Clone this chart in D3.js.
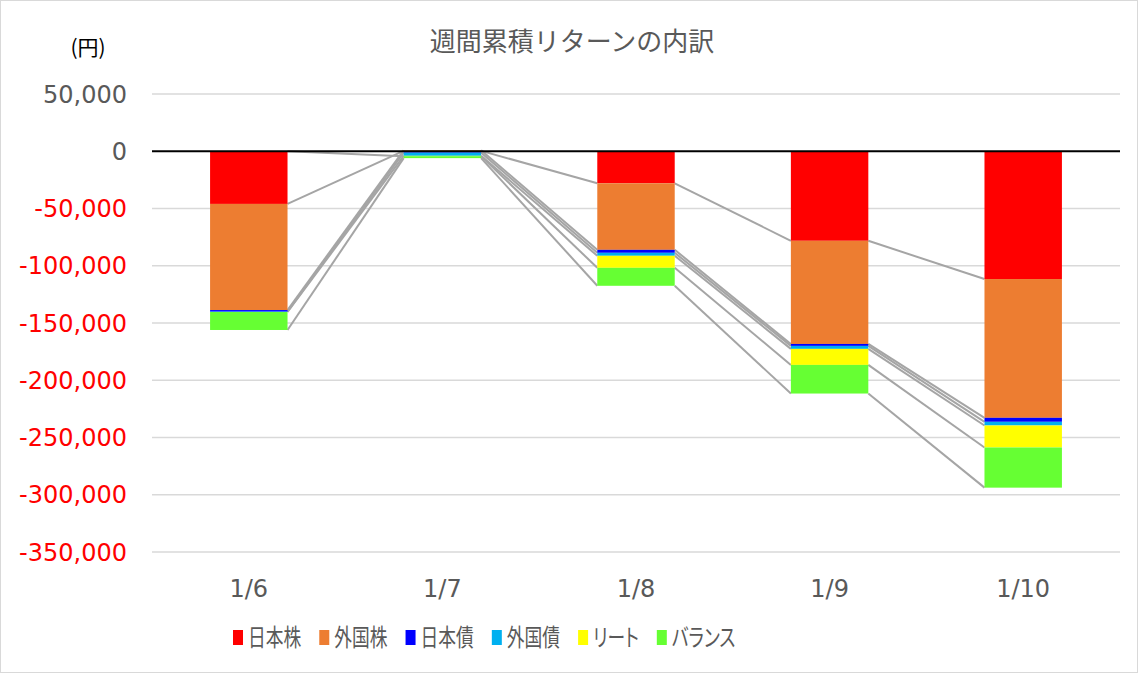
<!DOCTYPE html>
<html>
<head>
<meta charset="utf-8">
<script src="https://cdn.jsdelivr.net/npm/d3@7"></script>
<style>
  html, body { margin: 0; padding: 0; background: #fff; }
  svg { display: block; }
  .jp { font-family: "Noto Sans CJK JP", "Noto Sans", sans-serif; }
  .num { font-family: "DejaVu Sans", "Noto Sans CJK JP", sans-serif; }
</style>
</head>
<body>
<div id="chart"></div>
<script>
// ---- data ----
const categories = ["1/6", "1/7", "1/8", "1/9", "1/10"];
const seriesNames = ["日本株", "外国株", "日本債", "外国債", "リート", "バランス"];
const jpStock  = [-46000,   300, -28000, -78200, -111600];
const fgStock  = [-92700,   600, -58100, -90100, -121200];
const jpBond   = [ -1400, -1200,  -2600,  -1700,   -3500];
const fgBond   = [  -300, -2800,  -2600,  -2600,   -3200];
const reit     = [     0,  -300, -10500, -14000,  -19200];
const balance  = [-15700, -1700, -15700, -25000,  -35100];
const yTicks   = [50000, 0, -50000, -100000, -150000, -200000, -250000, -300000, -350000];
const seriesColors = ["#FF0000", "#ED7D31", "#0000FF", "#00B0F0", "#FFFF00", "#66FF33"];

const seriesValues = [jpStock, fgStock, jpBond, fgBond, reit, balance];
const table = categories.map((c, i) => {
  const row = { cat: c };
  seriesNames.forEach((s, k) => row[s] = seriesValues[k][i]);
  return row;
});

// ---- layout ----
const W = 1144, H = 673;
const svg = d3.select("#chart").append("svg").attr("width", W).attr("height", H);

svg.append("rect").attr("x", 0.5).attr("y", 0.5).attr("width", 1137).attr("height", H - 1)
  .attr("fill", "#fff").attr("stroke", "#D9D9D9").attr("stroke-width", 1);

const x = d3.scaleBand().domain(categories).range([152, 1120]).paddingInner(0.6).paddingOuter(0.3);
const y = d3.scaleLinear().domain([-350000, 50000]).range([552, 94]);

// gridlines
svg.append("g").selectAll("line").data(yTicks.filter(v => v !== 0)).join("line")
  .attr("x1", 152).attr("x2", 1120)
  .attr("y1", d => y(d)).attr("y2", d => y(d))
  .attr("stroke", "#D9D9D9").attr("stroke-width", 1.3);

// y labels
const fmt = d3.format(",");
svg.append("g").selectAll("text").data(yTicks).join("text")
  .attr("class", "num")
  .attr("x", 127).attr("y", d => y(d)).attr("dy", "0.36em")
  .attr("text-anchor", "end").attr("font-size", 24)
  .attr("fill", d => d < 0 ? "#FF0000" : "#595959")
  .text(d => d < 0 ? "-" + fmt(-d) : fmt(d));

// stack
const stack = d3.stack().keys(seriesNames).offset(d3.stackOffsetDiverging);
const stacked = stack(table);

// series lines
const endOf = (seg, v) => v > 0 ? seg[1] : (v < 0 ? seg[0] : 0);
const lineData = [];
stacked.forEach((s, k) => {
  for (let i = 0; i < s.length - 1; i++) {
    const v0 = s[i].data[s.key], v1 = s[i + 1].data[s.key];
    lineData.push({
      x1: x(categories[i]) + x.bandwidth(), y1: y(endOf(s[i], v0)),
      x2: x(categories[i + 1]), y2: y(endOf(s[i + 1], v1))
    });
  }
});
svg.append("g").selectAll("line").data(lineData).join("line")
  .attr("x1", d => d.x1).attr("y1", d => d.y1)
  .attr("x2", d => d.x2).attr("y2", d => d.y2)
  .attr("stroke", "#A5A5A5").attr("stroke-width", 2);

// bars
svg.append("g").selectAll("g").data(stacked).join("g")
  .attr("fill", (d, k) => seriesColors[k])
  .selectAll("rect").data(d => d).join("rect")
  .attr("x", d => x(d.data.cat))
  .attr("width", x.bandwidth())
  .attr("y", d => y(Math.max(d[0], d[1])))
  .attr("height", d => Math.abs(y(d[0]) - y(d[1])));

// zero line
svg.append("line").attr("x1", 152).attr("x2", 1120)
  .attr("y1", y(0)).attr("y2", y(0))
  .attr("stroke", "#000").attr("stroke-width", 2);

// x labels
svg.append("g").selectAll("text").data(categories).join("text")
  .attr("class", "num")
  .attr("x", d => x(d) + x.bandwidth() / 2).attr("y", 597)
  .attr("text-anchor", "middle").attr("font-size", 24).attr("fill", "#595959")
  .text(d => d);

// title
svg.append("text").attr("class", "jp")
  .attr("x", 572).attr("y", 51).attr("text-anchor", "middle")
  .attr("font-size", 26).attr("fill", "#595959")
  .text("週間累積リターンの内訳");

// unit
svg.append("text").attr("class", "jp")
  .attr("x", 88).attr("y", 55).attr("text-anchor", "middle")
  .attr("font-size", 21).attr("fill", "#000")
  .text("(円)");

// legend (condensed glyphs like the original UI font)
const legend = svg.append("g");
const squeeze = 0.74;
let lx = 233;
seriesNames.forEach((name, k) => {
  legend.append("rect").attr("x", lx).attr("y", 630).attr("width", 10).attr("height", 15)
    .attr("fill", seriesColors[k]);
  const g = legend.append("g").attr("transform", `translate(${lx + 15},646) scale(${squeeze},1)`);
  const t = g.append("text").attr("class", "jp")
    .attr("x", 0).attr("y", 0)
    .attr("font-size", 24).attr("fill", "#595959")
    .style("font-feature-settings", "'palt'")
    .text(name);
  lx += 15 + t.node().getComputedTextLength() * squeeze + 18;
});
</script>
</body>
</html>
